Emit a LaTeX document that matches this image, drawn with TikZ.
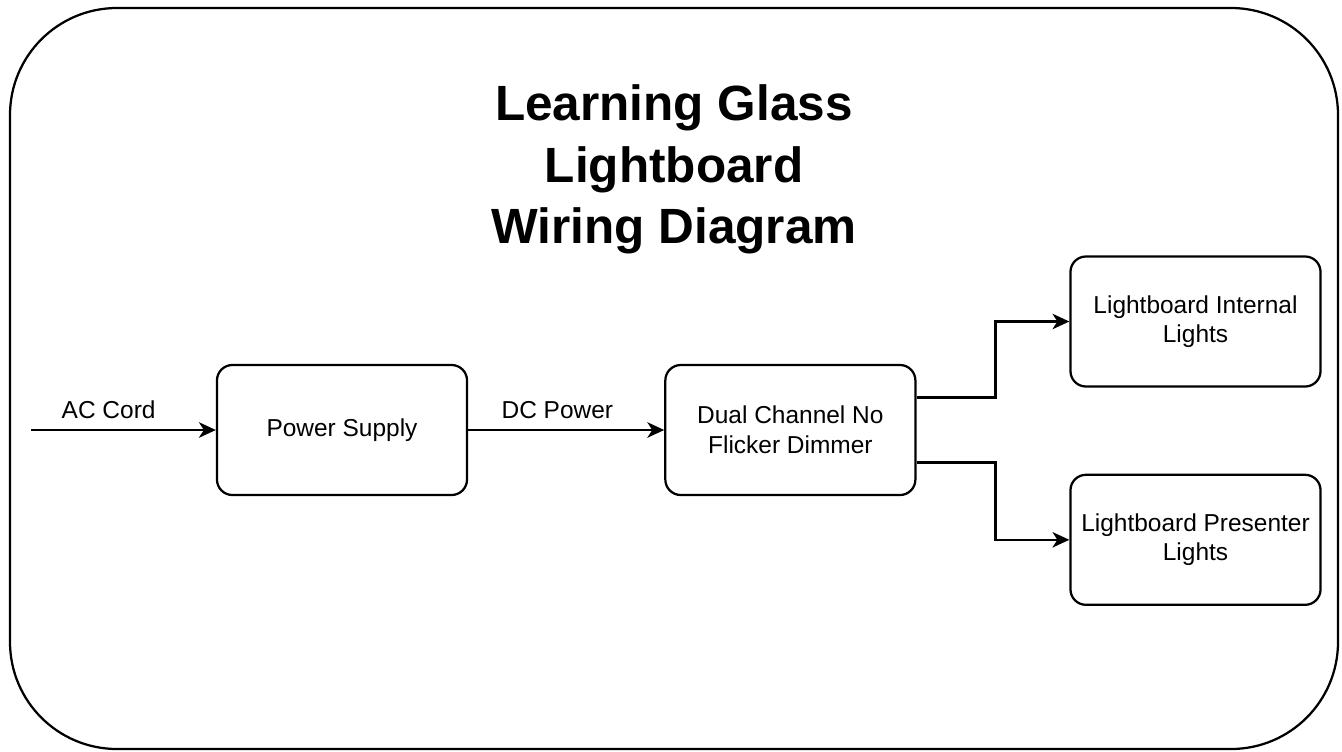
\documentclass[tikz,border=0pt]{standalone}
\usepackage{fontspec}
\setmainfont{Liberation Sans}
\usetikzlibrary{positioning}
\usetikzlibrary{arrows.meta}
\tikzset{>={Stealth[width=11pt,length=12pt,inset=3.5pt]}}

\begin{document}
\begin{tikzpicture}[x=0.025cm, y=-0.025cm, line width=1.6pt, block/.style={rectangle, rounded corners=11pt, draw=black, line width=1.6pt, minimum width=6.25cm, minimum height=3.25cm, inner sep=0pt, align=center, font=\fontsize{17.4}{21}\selectfont}, heading/.style={draw=none, inner sep=0pt, anchor=north, align=center, font=\fontsize{35.2}{43.4}\selectfont\bfseries}, wirelabel/.style={draw=none, inner sep=0pt, above=7pt, font=\fontsize{17.4}{21}\selectfont}]
    
    \useasboundingbox (0,0) rectangle (1342,751);
    %Frame
    \draw[rounded corners=2.675cm] (10,8) rectangle (1338,749);
    
    %Nodes
    \node[heading](title) at (674,84){Learning Glass\\Lightboard\\Wiring Diagram};
    \node[block](supply) at (342,430){Power Supply};
    \node[block](dimmer)[right=4.9cm of supply]{Dual Channel No\\Flicker Dimmer};
    \node[block](internal) at (1195.5,321.5){Lightboard Internal\\Lights};
    \node[block](presenter)[below=2.15cm of internal]{Lightboard Presenter\\Lights};
    \coordinate (mains) at (31,430);
    
    %Lines
    \draw[->] (mains) -- node[wirelabel, pos=0.42]{AC Cord} (supply.west);
    \draw[->] (supply.east) -- node[wirelabel, pos=0.455]{DC Power} (dimmer.west);
    \draw[->] ([yshift=0.8125cm]dimmer.east) -- ++(79,0) |- (internal.west);
    \draw[->] ([yshift=-0.8125cm]dimmer.east) -- ++(79,0) |- (presenter.west);
    
    \end{tikzpicture}
\end{document}
